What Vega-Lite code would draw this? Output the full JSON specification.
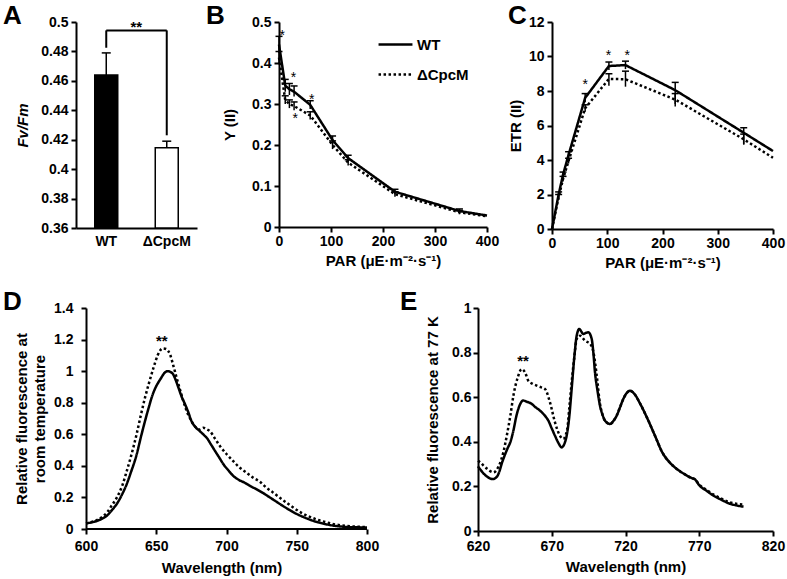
{
  "$schema": "https://vega.github.io/schema/vega-lite/v6.json",
  "background": "white",
  "padding": {"left": 3, "top": 3, "right": 2, "bottom": 2},
  "config": {
    "font": "Liberation Sans",
    "view": {"stroke": null},
    "axis": {
      "domainColor": "black", "domainWidth": 2, "tickColor": "black", "tickWidth": 2, "tickSize": 5,
      "labelFont": "Liberation Sans", "labelFontSize": 14, "labelFontWeight": "bold", "labelColor": "black",
      "titleFont": "Liberation Sans", "titleFontSize": 15, "titleFontWeight": "bold", "titleColor": "black",
      "grid": false, "labelPadding": 3, "labelOverlap": false, "labelFlush": false, "tickCount": 50
    },
    "title": {"fontSize": 26, "fontWeight": "bold", "anchor": "start", "frame": "group", "color": "black", "font": "Liberation Sans", "offset": -14},
    "text": {"font": "Liberation Sans", "color": "black"}
  },
  "datasets": {
    "fvfm": [
      {"strain": "WT", "fvfm": 0.4639, "hi": 0.479},
      {"strain": "ΔCpcM", "fvfm": 0.4145, "hi": 0.419}
    ],
    "bracketV": [
      {"strain": "WT", "lo": 0.4825, "hi": 0.4943},
      {"strain": "ΔCpcM", "lo": 0.423, "hi": 0.4943}
    ],
    "bracketH": [
      {"from": "WT", "to": "ΔCpcM", "y": 0.4943, "star": 0.4986, "t": "**"}
    ],
    "ylds": [
      {"par": 0, "strain": "WT", "y": 0.445, "lo": 0.425, "hi": 0.465},
      {"par": 12, "strain": "WT", "y": 0.345, "lo": 0.33, "hi": 0.36},
      {"par": 20, "strain": "WT", "y": 0.336, "lo": 0.322, "hi": 0.35},
      {"par": 29, "strain": "WT", "y": 0.33, "lo": 0.318, "hi": 0.344},
      {"par": 60, "strain": "WT", "y": 0.298, "lo": 0.288, "hi": 0.308},
      {"par": 103, "strain": "WT", "y": 0.212, "lo": 0.202, "hi": 0.222},
      {"par": 133, "strain": "WT", "y": 0.168, "lo": 0.16, "hi": 0.175},
      {"par": 223, "strain": "WT", "y": 0.086, "lo": 0.08, "hi": 0.092},
      {"par": 347, "strain": "WT", "y": 0.039, "lo": 0.034, "hi": 0.044},
      {"par": 400, "strain": "WT", "y": 0.028},
      {"par": 0, "strain": "ΔCpcM", "y": 0.413, "lo": 0.398, "hi": 0.428},
      {"par": 12, "strain": "ΔCpcM", "y": 0.31, "lo": 0.3, "hi": 0.32},
      {"par": 20, "strain": "ΔCpcM", "y": 0.3, "lo": 0.29, "hi": 0.31},
      {"par": 29, "strain": "ΔCpcM", "y": 0.295, "lo": 0.285, "hi": 0.305},
      {"par": 60, "strain": "ΔCpcM", "y": 0.272, "lo": 0.262, "hi": 0.281},
      {"par": 103, "strain": "ΔCpcM", "y": 0.2, "lo": 0.19, "hi": 0.21},
      {"par": 133, "strain": "ΔCpcM", "y": 0.157, "lo": 0.15, "hi": 0.164},
      {"par": 223, "strain": "ΔCpcM", "y": 0.08, "lo": 0.074, "hi": 0.086},
      {"par": 347, "strain": "ΔCpcM", "y": 0.036, "lo": 0.031, "hi": 0.04},
      {"par": 400, "strain": "ΔCpcM", "y": 0.026}
    ],
    "etr": [
      {"par": 0, "strain": "WT", "y": 0},
      {"par": 12, "strain": "WT", "y": 2.0, "lo": 1.85, "hi": 2.15},
      {"par": 20, "strain": "WT", "y": 3.15, "lo": 3.0, "hi": 3.3},
      {"par": 30, "strain": "WT", "y": 4.3, "lo": 4.12, "hi": 4.48},
      {"par": 60, "strain": "WT", "y": 7.6, "lo": 7.35, "hi": 7.85},
      {"par": 103, "strain": "WT", "y": 9.45, "lo": 9.22, "hi": 9.68},
      {"par": 133, "strain": "WT", "y": 9.5, "lo": 9.27, "hi": 9.73},
      {"par": 223, "strain": "WT", "y": 8.05, "lo": 7.25, "hi": 8.5},
      {"par": 347, "strain": "WT", "y": 5.58, "lo": 4.9, "hi": 5.87},
      {"par": 400, "strain": "WT", "y": 4.52},
      {"par": 0, "strain": "ΔCpcM", "y": 0},
      {"par": 12, "strain": "ΔCpcM", "y": 1.85, "lo": 1.7, "hi": 2.0},
      {"par": 20, "strain": "ΔCpcM", "y": 2.9, "lo": 2.75, "hi": 3.05},
      {"par": 30, "strain": "ΔCpcM", "y": 3.95, "lo": 3.8, "hi": 4.1},
      {"par": 60, "strain": "ΔCpcM", "y": 7.0, "lo": 6.8, "hi": 7.2},
      {"par": 103, "strain": "ΔCpcM", "y": 8.7, "lo": 8.3, "hi": 9.0},
      {"par": 133, "strain": "ΔCpcM", "y": 8.68, "lo": 8.25, "hi": 9.15},
      {"par": 223, "strain": "ΔCpcM", "y": 7.5, "lo": 7.1, "hi": 7.85},
      {"par": 347, "strain": "ΔCpcM", "y": 5.2, "lo": 4.9, "hi": 5.5},
      {"par": 400, "strain": "ΔCpcM", "y": 4.13}
    ],
    "rt": [
      {"wl": 600, "strain": "WT", "f": 0.036}, {"wl": 604, "strain": "WT", "f": 0.042}, {"wl": 608, "strain": "WT", "f": 0.052},
      {"wl": 612, "strain": "WT", "f": 0.068}, {"wl": 615, "strain": "WT", "f": 0.085}, {"wl": 618, "strain": "WT", "f": 0.115},
      {"wl": 622, "strain": "WT", "f": 0.16}, {"wl": 626, "strain": "WT", "f": 0.225}, {"wl": 629, "strain": "WT", "f": 0.285},
      {"wl": 632, "strain": "WT", "f": 0.36}, {"wl": 636, "strain": "WT", "f": 0.47}, {"wl": 639, "strain": "WT", "f": 0.58},
      {"wl": 642, "strain": "WT", "f": 0.684}, {"wl": 645, "strain": "WT", "f": 0.78}, {"wl": 647, "strain": "WT", "f": 0.84},
      {"wl": 650, "strain": "WT", "f": 0.905}, {"wl": 653, "strain": "WT", "f": 0.95}, {"wl": 656, "strain": "WT", "f": 0.99},
      {"wl": 658, "strain": "WT", "f": 1.0}, {"wl": 660, "strain": "WT", "f": 0.995}, {"wl": 662, "strain": "WT", "f": 0.98},
      {"wl": 664, "strain": "WT", "f": 0.94}, {"wl": 666, "strain": "WT", "f": 0.89}, {"wl": 668, "strain": "WT", "f": 0.84},
      {"wl": 670.5, "strain": "WT", "f": 0.79}, {"wl": 673, "strain": "WT", "f": 0.735}, {"wl": 675, "strain": "WT", "f": 0.685},
      {"wl": 678, "strain": "WT", "f": 0.645}, {"wl": 681, "strain": "WT", "f": 0.62}, {"wl": 684, "strain": "WT", "f": 0.595},
      {"wl": 686, "strain": "WT", "f": 0.577}, {"wl": 689, "strain": "WT", "f": 0.535}, {"wl": 692, "strain": "WT", "f": 0.492},
      {"wl": 695, "strain": "WT", "f": 0.45}, {"wl": 698, "strain": "WT", "f": 0.408}, {"wl": 701, "strain": "WT", "f": 0.375},
      {"wl": 705, "strain": "WT", "f": 0.335}, {"wl": 709, "strain": "WT", "f": 0.31}, {"wl": 713, "strain": "WT", "f": 0.293},
      {"wl": 717, "strain": "WT", "f": 0.272}, {"wl": 721.5, "strain": "WT", "f": 0.251}, {"wl": 726, "strain": "WT", "f": 0.228},
      {"wl": 730, "strain": "WT", "f": 0.205}, {"wl": 735, "strain": "WT", "f": 0.176}, {"wl": 740, "strain": "WT", "f": 0.147},
      {"wl": 745, "strain": "WT", "f": 0.12}, {"wl": 750, "strain": "WT", "f": 0.095}, {"wl": 755, "strain": "WT", "f": 0.075},
      {"wl": 760, "strain": "WT", "f": 0.057}, {"wl": 765, "strain": "WT", "f": 0.043}, {"wl": 770, "strain": "WT", "f": 0.032},
      {"wl": 775, "strain": "WT", "f": 0.023}, {"wl": 780, "strain": "WT", "f": 0.017}, {"wl": 790, "strain": "WT", "f": 0.011},
      {"wl": 800, "strain": "WT", "f": 0.01},
      {"wl": 600, "strain": "ΔCpcM", "f": 0.036}, {"wl": 604, "strain": "ΔCpcM", "f": 0.044}, {"wl": 608, "strain": "ΔCpcM", "f": 0.058},
      {"wl": 612, "strain": "ΔCpcM", "f": 0.08}, {"wl": 615, "strain": "ΔCpcM", "f": 0.105}, {"wl": 618, "strain": "ΔCpcM", "f": 0.145},
      {"wl": 622, "strain": "ΔCpcM", "f": 0.2}, {"wl": 626, "strain": "ΔCpcM", "f": 0.28}, {"wl": 629, "strain": "ΔCpcM", "f": 0.367},
      {"wl": 632, "strain": "ΔCpcM", "f": 0.46}, {"wl": 636, "strain": "ΔCpcM", "f": 0.6}, {"wl": 639, "strain": "ΔCpcM", "f": 0.72},
      {"wl": 642, "strain": "ΔCpcM", "f": 0.832}, {"wl": 645, "strain": "ΔCpcM", "f": 0.93}, {"wl": 648, "strain": "ΔCpcM", "f": 1.02},
      {"wl": 651, "strain": "ΔCpcM", "f": 1.1}, {"wl": 654.6, "strain": "ΔCpcM", "f": 1.144}, {"wl": 657, "strain": "ΔCpcM", "f": 1.14},
      {"wl": 659.8, "strain": "ΔCpcM", "f": 1.106}, {"wl": 662, "strain": "ΔCpcM", "f": 1.04}, {"wl": 664.5, "strain": "ΔCpcM", "f": 0.958},
      {"wl": 667, "strain": "ΔCpcM", "f": 0.88}, {"wl": 669.3, "strain": "ΔCpcM", "f": 0.81}, {"wl": 672, "strain": "ΔCpcM", "f": 0.74},
      {"wl": 675, "strain": "ΔCpcM", "f": 0.685}, {"wl": 678, "strain": "ΔCpcM", "f": 0.645}, {"wl": 681, "strain": "ΔCpcM", "f": 0.63},
      {"wl": 683.5, "strain": "ΔCpcM", "f": 0.641}, {"wl": 686, "strain": "ΔCpcM", "f": 0.632}, {"wl": 688.2, "strain": "ΔCpcM", "f": 0.62},
      {"wl": 692, "strain": "ΔCpcM", "f": 0.57}, {"wl": 695.3, "strain": "ΔCpcM", "f": 0.526}, {"wl": 700, "strain": "ΔCpcM", "f": 0.475},
      {"wl": 704.8, "strain": "ΔCpcM", "f": 0.43}, {"wl": 709, "strain": "ΔCpcM", "f": 0.392}, {"wl": 714.2, "strain": "ΔCpcM", "f": 0.357},
      {"wl": 719, "strain": "ΔCpcM", "f": 0.325}, {"wl": 723.7, "strain": "ΔCpcM", "f": 0.3}, {"wl": 728, "strain": "ΔCpcM", "f": 0.265},
      {"wl": 733, "strain": "ΔCpcM", "f": 0.232}, {"wl": 738, "strain": "ΔCpcM", "f": 0.198}, {"wl": 743, "strain": "ΔCpcM", "f": 0.165},
      {"wl": 748, "strain": "ΔCpcM", "f": 0.133}, {"wl": 753, "strain": "ΔCpcM", "f": 0.104}, {"wl": 758, "strain": "ΔCpcM", "f": 0.082},
      {"wl": 763, "strain": "ΔCpcM", "f": 0.064}, {"wl": 768, "strain": "ΔCpcM", "f": 0.05}, {"wl": 773, "strain": "ΔCpcM", "f": 0.038},
      {"wl": 778, "strain": "ΔCpcM", "f": 0.028}, {"wl": 785, "strain": "ΔCpcM", "f": 0.02}, {"wl": 792, "strain": "ΔCpcM", "f": 0.015},
      {"wl": 800, "strain": "ΔCpcM", "f": 0.012}
    ],
    "k77": [
      {"wl": 620, "strain": "WT", "f": 0.29}, {"wl": 625, "strain": "WT", "f": 0.25}, {"wl": 630, "strain": "WT", "f": 0.233},
      {"wl": 633, "strain": "WT", "f": 0.245}, {"wl": 637, "strain": "WT", "f": 0.32}, {"wl": 640, "strain": "WT", "f": 0.37},
      {"wl": 642, "strain": "WT", "f": 0.4}, {"wl": 644, "strain": "WT", "f": 0.45}, {"wl": 646, "strain": "WT", "f": 0.515},
      {"wl": 648, "strain": "WT", "f": 0.56}, {"wl": 650.7, "strain": "WT", "f": 0.585}, {"wl": 653, "strain": "WT", "f": 0.58},
      {"wl": 656.4, "strain": "WT", "f": 0.57}, {"wl": 659, "strain": "WT", "f": 0.555}, {"wl": 662, "strain": "WT", "f": 0.54},
      {"wl": 665, "strain": "WT", "f": 0.52}, {"wl": 667.7, "strain": "WT", "f": 0.495}, {"wl": 670, "strain": "WT", "f": 0.46},
      {"wl": 672.2, "strain": "WT", "f": 0.427}, {"wl": 674.5, "strain": "WT", "f": 0.395}, {"wl": 676.7, "strain": "WT", "f": 0.375},
      {"wl": 678.5, "strain": "WT", "f": 0.39}, {"wl": 680.1, "strain": "WT", "f": 0.427}, {"wl": 682, "strain": "WT", "f": 0.52},
      {"wl": 683.5, "strain": "WT", "f": 0.637}, {"wl": 685.3, "strain": "WT", "f": 0.78}, {"wl": 686.9, "strain": "WT", "f": 0.876},
      {"wl": 688.7, "strain": "WT", "f": 0.906}, {"wl": 690, "strain": "WT", "f": 0.895}, {"wl": 691.4, "strain": "WT", "f": 0.883},
      {"wl": 693, "strain": "WT", "f": 0.888}, {"wl": 694.8, "strain": "WT", "f": 0.891}, {"wl": 697.1, "strain": "WT", "f": 0.861},
      {"wl": 698.2, "strain": "WT", "f": 0.8}, {"wl": 699.3, "strain": "WT", "f": 0.712}, {"wl": 701, "strain": "WT", "f": 0.63},
      {"wl": 702.7, "strain": "WT", "f": 0.562}, {"wl": 704.5, "strain": "WT", "f": 0.52}, {"wl": 706.1, "strain": "WT", "f": 0.495},
      {"wl": 709.5, "strain": "WT", "f": 0.48}, {"wl": 712, "strain": "WT", "f": 0.495}, {"wl": 714, "strain": "WT", "f": 0.517},
      {"wl": 716.3, "strain": "WT", "f": 0.555}, {"wl": 718.5, "strain": "WT", "f": 0.592}, {"wl": 721, "strain": "WT", "f": 0.62},
      {"wl": 723, "strain": "WT", "f": 0.629}, {"wl": 726, "strain": "WT", "f": 0.615}, {"wl": 730, "strain": "WT", "f": 0.57},
      {"wl": 735, "strain": "WT", "f": 0.502}, {"wl": 740, "strain": "WT", "f": 0.427}, {"wl": 745, "strain": "WT", "f": 0.352},
      {"wl": 750, "strain": "WT", "f": 0.307}, {"wl": 755, "strain": "WT", "f": 0.277}, {"wl": 760, "strain": "WT", "f": 0.255},
      {"wl": 765, "strain": "WT", "f": 0.237}, {"wl": 767, "strain": "WT", "f": 0.232}, {"wl": 770, "strain": "WT", "f": 0.205},
      {"wl": 775, "strain": "WT", "f": 0.18}, {"wl": 780, "strain": "WT", "f": 0.157}, {"wl": 785, "strain": "WT", "f": 0.14},
      {"wl": 790, "strain": "WT", "f": 0.124}, {"wl": 795, "strain": "WT", "f": 0.115}, {"wl": 800, "strain": "WT", "f": 0.109},
      {"wl": 620, "strain": "ΔCpcM", "f": 0.315}, {"wl": 621.4, "strain": "ΔCpcM", "f": 0.308}, {"wl": 626, "strain": "ΔCpcM", "f": 0.28},
      {"wl": 630.4, "strain": "ΔCpcM", "f": 0.263}, {"wl": 634, "strain": "ΔCpcM", "f": 0.29}, {"wl": 637.2, "strain": "ΔCpcM", "f": 0.353},
      {"wl": 639.5, "strain": "ΔCpcM", "f": 0.427}, {"wl": 642, "strain": "ΔCpcM", "f": 0.52}, {"wl": 644, "strain": "ΔCpcM", "f": 0.607},
      {"wl": 647, "strain": "ΔCpcM", "f": 0.69}, {"wl": 649.6, "strain": "ΔCpcM", "f": 0.726}, {"wl": 652, "strain": "ΔCpcM", "f": 0.71},
      {"wl": 654.1, "strain": "ΔCpcM", "f": 0.674}, {"wl": 657, "strain": "ΔCpcM", "f": 0.66}, {"wl": 659.8, "strain": "ΔCpcM", "f": 0.652},
      {"wl": 662.5, "strain": "ΔCpcM", "f": 0.645}, {"wl": 665.4, "strain": "ΔCpcM", "f": 0.637}, {"wl": 668.8, "strain": "ΔCpcM", "f": 0.577},
      {"wl": 672.2, "strain": "ΔCpcM", "f": 0.487}, {"wl": 675.6, "strain": "ΔCpcM", "f": 0.427}, {"wl": 677.8, "strain": "ΔCpcM", "f": 0.413},
      {"wl": 680.5, "strain": "ΔCpcM", "f": 0.457}, {"wl": 682, "strain": "ΔCpcM", "f": 0.56}, {"wl": 683.5, "strain": "ΔCpcM", "f": 0.667},
      {"wl": 685.3, "strain": "ΔCpcM", "f": 0.78}, {"wl": 686.9, "strain": "ΔCpcM", "f": 0.861}, {"wl": 689.2, "strain": "ΔCpcM", "f": 0.876},
      {"wl": 692.6, "strain": "ΔCpcM", "f": 0.853}, {"wl": 696, "strain": "ΔCpcM", "f": 0.839}, {"wl": 698.3, "strain": "ΔCpcM", "f": 0.801},
      {"wl": 700.5, "strain": "ΔCpcM", "f": 0.697}, {"wl": 702.7, "strain": "ΔCpcM", "f": 0.57}, {"wl": 704.5, "strain": "ΔCpcM", "f": 0.52},
      {"wl": 706.1, "strain": "ΔCpcM", "f": 0.495}, {"wl": 709.5, "strain": "ΔCpcM", "f": 0.48}, {"wl": 712, "strain": "ΔCpcM", "f": 0.495},
      {"wl": 714, "strain": "ΔCpcM", "f": 0.517}, {"wl": 716.3, "strain": "ΔCpcM", "f": 0.555}, {"wl": 718.5, "strain": "ΔCpcM", "f": 0.592},
      {"wl": 721, "strain": "ΔCpcM", "f": 0.62}, {"wl": 723, "strain": "ΔCpcM", "f": 0.629}, {"wl": 726, "strain": "ΔCpcM", "f": 0.615},
      {"wl": 730, "strain": "ΔCpcM", "f": 0.57}, {"wl": 735, "strain": "ΔCpcM", "f": 0.502}, {"wl": 740, "strain": "ΔCpcM", "f": 0.427},
      {"wl": 745, "strain": "ΔCpcM", "f": 0.352}, {"wl": 750, "strain": "ΔCpcM", "f": 0.307}, {"wl": 755, "strain": "ΔCpcM", "f": 0.277},
      {"wl": 760, "strain": "ΔCpcM", "f": 0.255}, {"wl": 765, "strain": "ΔCpcM", "f": 0.237}, {"wl": 767, "strain": "ΔCpcM", "f": 0.232},
      {"wl": 770, "strain": "ΔCpcM", "f": 0.208}, {"wl": 775, "strain": "ΔCpcM", "f": 0.184}, {"wl": 780, "strain": "ΔCpcM", "f": 0.162},
      {"wl": 785, "strain": "ΔCpcM", "f": 0.145}, {"wl": 790, "strain": "ΔCpcM", "f": 0.13}, {"wl": 795, "strain": "ΔCpcM", "f": 0.122},
      {"wl": 800, "strain": "ΔCpcM", "f": 0.118}
    ]
  },
  "resolve": {"scale": {"strokeDash": "independent"}, "legend": {"strokeDash": "independent"}},
  "spacing": 19,
  "vconcat": [
    {
      "spacing": 9,
      "resolve": {"scale": {"strokeDash": "independent"}, "legend": {"strokeDash": "independent"}},
      "hconcat": [
        {
          "title": {"text": "A", "dx": -73},
          "width": 121,
          "height": 206,
          "layer": [
            {
              "data": {"name": "fvfm"},
              "mark": {"type": "bar", "width": {"band": 0.38}, "stroke": "black", "strokeWidth": 1.5},
              "encoding": {
                "x": {"field": "strain", "type": "nominal", "scale": {"paddingInner": 0, "paddingOuter": 0}, "axis": {"title": null, "labelAngle": 0, "ticks": false, "labelPadding": 6}},
                "y": {"field": "fvfm", "type": "quantitative", "scale": {"domain": [0.36, 0.5], "zero": false, "nice": false}, "axis": {"values": [0.36, 0.38, 0.4, 0.42, 0.44, 0.46, 0.48, 0.5], "tickCount": 50, "format": "~f", "title": "Fv/Fm", "titleFontStyle": "italic", "titlePadding": 10}},
                "y2": {"datum": 0.36},
                "fill": {"field": "strain", "type": "nominal", "scale": {"domain": ["WT", "ΔCpcM"], "range": ["black", "white"]}, "legend": null}
              }
            },
            {
              "data": {"name": "fvfm"},
              "mark": {"type": "rule", "strokeWidth": 1.5, "color": "black"},
              "encoding": {
                "x": {"field": "strain", "type": "nominal"},
                "y": {"field": "fvfm", "type": "quantitative"},
                "y2": {"field": "hi"}
              }
            },
            {
              "data": {"name": "fvfm"},
              "mark": {"type": "point", "shape": "M-1,0H1", "size": 81, "filled": false, "stroke": "black", "strokeWidth": 1.5, "opacity": 1},
              "encoding": {
                "x": {"field": "strain", "type": "nominal"},
                "y": {"field": "hi", "type": "quantitative"}
              }
            },
            {
              "data": {"name": "bracketV"},
              "mark": {"type": "rule", "strokeWidth": 2, "color": "black"},
              "encoding": {
                "x": {"field": "strain", "type": "nominal"},
                "y": {"field": "lo", "type": "quantitative"},
                "y2": {"field": "hi"}
              }
            },
            {
              "data": {"name": "bracketH"},
              "mark": {"type": "rule", "strokeWidth": 2, "color": "black"},
              "encoding": {
                "x": {"field": "from", "type": "nominal"},
                "x2": {"field": "to"},
                "y": {"field": "y", "type": "quantitative"}
              }
            },
            {
              "data": {"name": "bracketH"},
              "mark": {"type": "text", "fontSize": 15, "fontWeight": "bold", "dx": 30, "dy": 3},
              "encoding": {
                "x": {"field": "from", "type": "nominal"},
                "y": {"field": "star", "type": "quantitative"},
                "text": {"field": "t"}
              }
            }
          ]
        },
        {
          "title": {"text": "B", "dx": -73},
          "width": 208,
          "height": 205,
          "layer": [
            {
              "data": {"name": "ylds"},
              "mark": {"type": "line", "strokeWidth": 2.5, "color": "black"},
              "encoding": {
                "x": {"field": "par", "type": "quantitative", "scale": {"domain": [0, 400], "nice": false}, "axis": {"values": [0, 100, 200, 300, 400], "tickCount": 50, "title": "PAR (μE·m⁻²·s⁻¹)", "labelPadding": 2, "titlePadding": 5}},
                "y": {"field": "y", "type": "quantitative", "scale": {"domain": [0, 0.5], "nice": false}, "axis": {"values": [0, 0.1, 0.2, 0.3, 0.4, 0.5], "tickCount": 50, "format": "~f", "title": "Y (II)", "titlePadding": 14}},
                "strokeDash": {"field": "strain", "type": "nominal", "scale": {"domain": ["WT", "ΔCpcM"], "range": [[1, 0], [2.5, 2.5]]},
                  "legend": {"orient": "none", "legendX": 98, "legendY": 4, "title": null, "symbolType": "stroke", "symbolSize": 1150, "symbolStrokeWidth": 2.5, "symbolStrokeColor": "black", "labelFontSize": 15, "labelFontWeight": "bold", "labelFont": "Liberation Sans", "labelColor": "black", "labelOffset": 3, "rowPadding": 3, "padding": 0}}
              }
            },
            {
              "data": {"name": "ylds"},
              "mark": {"type": "rule", "strokeWidth": 1.5, "color": "black"},
              "encoding": {
                "x": {"field": "par", "type": "quantitative"},
                "y": {"field": "lo", "type": "quantitative"},
                "y2": {"field": "hi"}
              }
            },
            {
              "data": {"name": "ylds"},
              "mark": {"type": "point", "shape": "M-1,0H1", "size": 49, "filled": false, "stroke": "black", "strokeWidth": 1.5, "opacity": 1},
              "encoding": {
                "x": {"field": "par", "type": "quantitative"},
                "y": {"field": "hi", "type": "quantitative"}
              }
            },
            {
              "data": {"values": [
                {"par": 6, "y": 0.472, "t": "*"},
                {"par": 28, "y": 0.37, "t": "*"},
                {"par": 31, "y": 0.271, "t": "*"},
                {"par": 63, "y": 0.318, "t": "*"}
              ]},
              "mark": {"type": "text", "fontSize": 14, "dy": 3},
              "encoding": {
                "x": {"field": "par", "type": "quantitative"},
                "y": {"field": "y", "type": "quantitative"},
                "text": {"field": "t"}
              }
            }
          ]
        },
        {
          "title": {"text": "C", "dx": -44},
          "width": 221,
          "height": 207,
          "layer": [
            {
              "data": {"name": "etr"},
              "mark": {"type": "line", "strokeWidth": 2.5, "color": "black"},
              "encoding": {
                "x": {"field": "par", "type": "quantitative", "scale": {"domain": [0, 400], "nice": false}, "axis": {"values": [0, 100, 200, 300, 400], "tickCount": 50, "title": "PAR (μE·m⁻²·s⁻¹)", "labelPadding": 2, "titlePadding": 5}},
                "y": {"field": "y", "type": "quantitative", "scale": {"domain": [0, 12], "nice": false}, "axis": {"values": [0, 2, 4, 6, 8, 10, 12], "tickCount": 50, "format": "~f", "title": "ETR (II)", "titlePadding": 5}},
                "strokeDash": {"field": "strain", "type": "nominal", "scale": {"domain": ["WT", "ΔCpcM"], "range": [[1, 0], [2.5, 2.5]]}, "legend": null}
              }
            },
            {
              "data": {"name": "etr"},
              "mark": {"type": "rule", "strokeWidth": 1.5, "color": "black"},
              "encoding": {
                "x": {"field": "par", "type": "quantitative"},
                "y": {"field": "lo", "type": "quantitative"},
                "y2": {"field": "hi"}
              }
            },
            {
              "data": {"name": "etr"},
              "mark": {"type": "point", "shape": "M-1,0H1", "size": 49, "filled": false, "stroke": "black", "strokeWidth": 1.5, "opacity": 1},
              "encoding": {
                "x": {"field": "par", "type": "quantitative"},
                "y": {"field": "hi", "type": "quantitative"}
              }
            },
            {
              "data": {"values": [
                {"par": 60, "y": 8.5, "t": "*"},
                {"par": 102, "y": 10.23, "t": "*"},
                {"par": 136, "y": 10.23, "t": "*"}
              ]},
              "mark": {"type": "text", "fontSize": 14, "dy": 3},
              "encoding": {
                "x": {"field": "par", "type": "quantitative"},
                "y": {"field": "y", "type": "quantitative"},
                "text": {"field": "t"}
              }
            }
          ]
        }
      ]
    },
    {
      "spacing": 21,
      "resolve": {"scale": {"strokeDash": "independent"}, "legend": {"strokeDash": "independent"}},
      "hconcat": [
        {
          "title": {"text": "D", "dx": -73},
          "width": 291,
          "height": 221,
          "layer": [
            {
              "data": {"name": "rt"},
              "mark": {"type": "line", "strokeWidth": 2.5, "color": "black", "interpolate": "monotone"},
              "encoding": {
                "x": {"field": "wl", "type": "quantitative", "scale": {"domain": [592.88, 800], "nice": false}, "axis": {"values": [600, 650, 700, 750, 800], "tickCount": 50, "domain": false, "title": "Wavelength (nm)", "labelPadding": 5, "titlePadding": 7}},
                "y": {"field": "f", "type": "quantitative", "scale": {"domain": [0, 1.4], "nice": false}, "axis": {"offset": -10, "values": [0, 0.2, 0.4, 0.6, 0.8, 1, 1.2, 1.4], "tickCount": 50, "format": "~f", "title": ["Relative fluorescence at", "room temperature"], "titleLineHeight": 18, "labelPadding": 8, "titlePadding": 6}},
                "strokeDash": {"field": "strain", "type": "nominal", "scale": {"domain": ["WT", "ΔCpcM"], "range": [[1, 0], [2.5, 2.5]]}, "legend": null}
              }
            },
            {
              "data": {"values": [{"from": 600, "to": 800, "base": 0}]},
              "mark": {"type": "rule", "strokeWidth": 2, "color": "black"},
              "encoding": {
                "x": {"field": "from", "type": "quantitative"},
                "x2": {"field": "to"},
                "y": {"field": "base", "type": "quantitative"}
              }
            },
            {
              "data": {"values": [{"wl": 654, "f": 1.21, "t": "**"}]},
              "mark": {"type": "text", "fontSize": 15, "fontWeight": "bold", "dy": 3},
              "encoding": {
                "x": {"field": "wl", "type": "quantitative"},
                "y": {"field": "f", "type": "quantitative"},
                "text": {"field": "t"}
              }
            }
          ]
        },
        {
          "title": {"text": "E", "dx": -78},
          "width": 295,
          "height": 223,
          "layer": [
            {
              "data": {"name": "k77"},
              "mark": {"type": "line", "strokeWidth": 2.5, "color": "black", "interpolate": "monotone"},
              "encoding": {
                "x": {"field": "wl", "type": "quantitative", "scale": {"domain": [620, 820], "nice": false}, "axis": {"values": [620, 670, 720, 770, 820], "tickCount": 50, "title": "Wavelength (nm)", "labelPadding": 3, "titlePadding": 6}},
                "y": {"field": "f", "type": "quantitative", "scale": {"domain": [0, 1], "nice": false}, "axis": {"values": [0, 0.2, 0.4, 0.6, 0.8, 1], "tickCount": 50, "format": "~f", "title": "Relative fluorescence at 77 K", "labelPadding": 2, "titlePadding": 11}},
                "strokeDash": {"field": "strain", "type": "nominal", "scale": {"domain": ["WT", "ΔCpcM"], "range": [[1, 0], [2.5, 2.5]]}, "legend": null}
              }
            },
            {
              "data": {"values": [{"wl": 650.5, "f": 0.775, "t": "**"}]},
              "mark": {"type": "text", "fontSize": 15, "fontWeight": "bold", "dy": 3},
              "encoding": {
                "x": {"field": "wl", "type": "quantitative"},
                "y": {"field": "f", "type": "quantitative"},
                "text": {"field": "t"}
              }
            }
          ]
        }
      ]
    }
  ]
}
